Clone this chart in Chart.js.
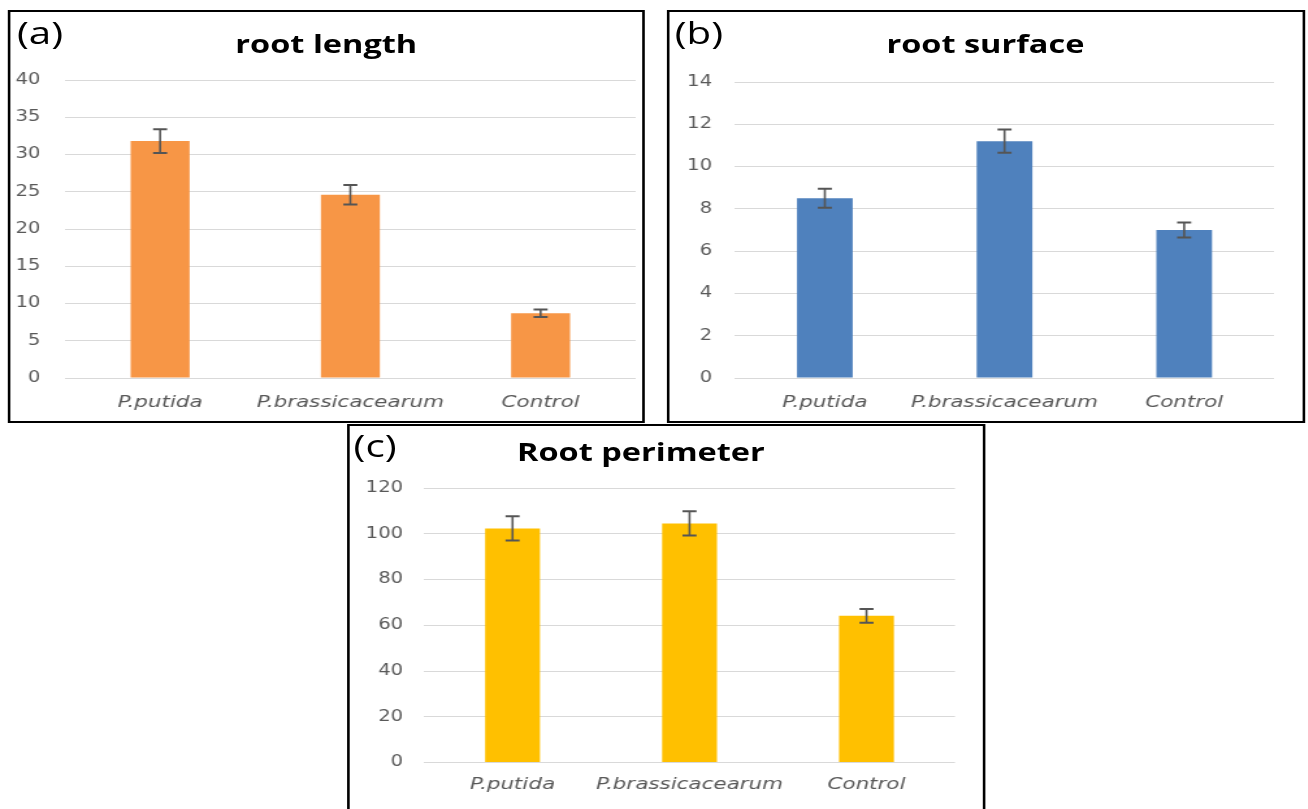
<!DOCTYPE html>
<html>
<head>
<meta charset="utf-8">
<script src="https://cdn.jsdelivr.net/npm/chart.js@4.4.1/dist/chart.umd.min.js"></script>
<style>
  html, body { margin: 0; padding: 0; background: #fff; overflow: hidden; }
  /* the original figure is stretched sideways, so the whole sheet is too */
  #sheet {
    position: absolute; left: 0; top: 0; width: 1006px; height: 809px;
    transform: scaleX(1.3); transform-origin: 0 0;
  }
  .panel { position: absolute; box-sizing: border-box; border: 2px solid #000; background: #fff; }
  .panel .box { position: absolute; left: 0; top: 0; right: 0; bottom: 0; }
  .tag { position: absolute; font-family: "Open Sans", sans-serif; font-size: 31px; line-height: 1; color: #000; }
  .title {
    position: absolute; font-family: "Open Sans", sans-serif; font-weight: bold;
    font-size: 25px; line-height: 1; color: #000; white-space: nowrap; transform: translateX(-50%);
  }
</style>
</head>
<body>
<div id="sheet">
  <div class="panel" style="left:6px; top:10px; width:490px; height:413px;">
    <div class="box"><canvas id="lengthChart"></canvas></div>
  </div>
  <div class="panel" style="left:513px; top:10px; width:491px; height:413px;">
    <div class="box"><canvas id="surfaceChart"></canvas></div>
  </div>
  <div class="panel" style="left:267px; top:424px; width:491px; height:392px;">
    <div class="box"><canvas id="perimeterChart"></canvas></div>
  </div>

  <div class="tag" style="left:13px; top:17px;">(a)</div>
  <div class="tag" style="left:519px; top:17px;">(b)</div>
  <div class="tag" style="left:272px; top:430px;">(c)</div>

  <div class="title" style="left:251px; top:31px;">root length</div>
  <div class="title" style="left:758px; top:31px;">root surface</div>
  <div class="title" style="left:493px; top:439px;">Root perimeter</div>
</div>

<script>
const categories = ["P.putida", "P.brassicacearum", "Control"];

const lengthValues = [31.8, 24.6, 8.7];
const lengthErrors = [1.6, 1.3, 0.5];
const lengthTicks = { max: 40, step: 5 };

const surfaceValues = [8.5, 11.2, 7.0];
const surfaceErrors = [0.45, 0.55, 0.35];
const surfaceTicks = { max: 14, step: 2 };

const perimeterValues = [102.3, 104.5, 64.1];
const perimeterErrors = [5.3, 5.3, 3.0];
const perimeterTicks = { max: 120, step: 20 };

const gridColor = "#d9d9d9";
const labelColor = "#595959";

// whiskers drawn on top of the bars, using the chart's own y scale
const errorBars = {
  id: "errorBars",
  afterDatasetsDraw(chart) {
    const ctx = chart.ctx;
    const y = chart.scales.y;
    const ds = chart.data.datasets[0];
    const meta = chart.getDatasetMeta(0);
    ctx.save();
    ctx.strokeStyle = "#555555";
    meta.data.forEach((bar, i) => {
      const v = ds.data[i];
      const e = ds.errors[i];
      const top = y.getPixelForValue(v + e);
      const bot = y.getPixelForValue(v - e);
      ctx.lineWidth = 1.6;
      ctx.beginPath();
      ctx.moveTo(bar.x, top);
      ctx.lineTo(bar.x, bot);
      ctx.stroke();
      ctx.lineWidth = 2;
      ctx.beginPath();
      ctx.moveTo(bar.x - 5.4, top);
      ctx.lineTo(bar.x + 5.4, top);
      ctx.moveTo(bar.x - 5.4, bot);
      ctx.lineTo(bar.x + 5.4, bot);
      ctx.stroke();
    });
    ctx.restore();
  }
};

function makeChart(id, values, errors, ticks, color, box) {
  return new Chart(document.getElementById(id), {
    type: "bar",
    data: {
      labels: categories,
      datasets: [{
        data: values,
        errors: errors,
        backgroundColor: color,
        barPercentage: 0.31,
        categoryPercentage: 1
      }]
    },
    options: {
      responsive: true,
      maintainAspectRatio: false,
      animation: false,
      layout: { padding: { top: box.top, right: box.right, bottom: box.bottom, left: 0 } },
      plugins: {
        legend: { display: false },
        tooltip: { enabled: false },
        title: { display: false }
      },
      scales: {
        x: {
          grid: { display: false, drawTicks: false },
          border: { display: false },
          ticks: {
            color: labelColor,
            padding: box.xPad,
            maxRotation: 0,
            minRotation: 0,
            autoSkip: false,
            font: { family: "DejaVu Sans", size: 16.5, style: "italic" }
          },
          afterFit: (s) => { s.height = box.xHeight; }
        },
        y: {
          min: 0,
          max: ticks.max,
          grid: { color: gridColor, lineWidth: 1, drawTicks: false },
          border: { display: false },
          ticks: {
            stepSize: ticks.step,
            color: labelColor,
            padding: box.yPad,
            font: { family: "DejaVu Sans", size: 15 }
          },
          afterFit: (s) => { s.width = box.yWidth; }
        }
      }
    },
    plugins: [errorBars]
  });
}

makeChart("lengthChart", lengthValues, lengthErrors, lengthTicks, "#f79646",
  { top: 68, right: 5, bottom: 9.4, xPad: 14.4, xHeight: 33.6, yPad: 19, yWidth: 42 });
makeChart("surfaceChart", surfaceValues, surfaceErrors, surfaceTicks, "#4f81bd",
  { top: 70, right: 22, bottom: 9.4, xPad: 14.4, xHeight: 33.6, yPad: 17.7, yWidth: 50.4 });
makeChart("perimeterChart", perimeterValues, perimeterErrors, perimeterTicks, "#ffc000",
  { top: 62, right: 21.4, bottom: 20.4, xPad: 11.9, xHeight: 31.1, yPad: 16.2, yWidth: 57.2 });
</script>
</body>
</html>
